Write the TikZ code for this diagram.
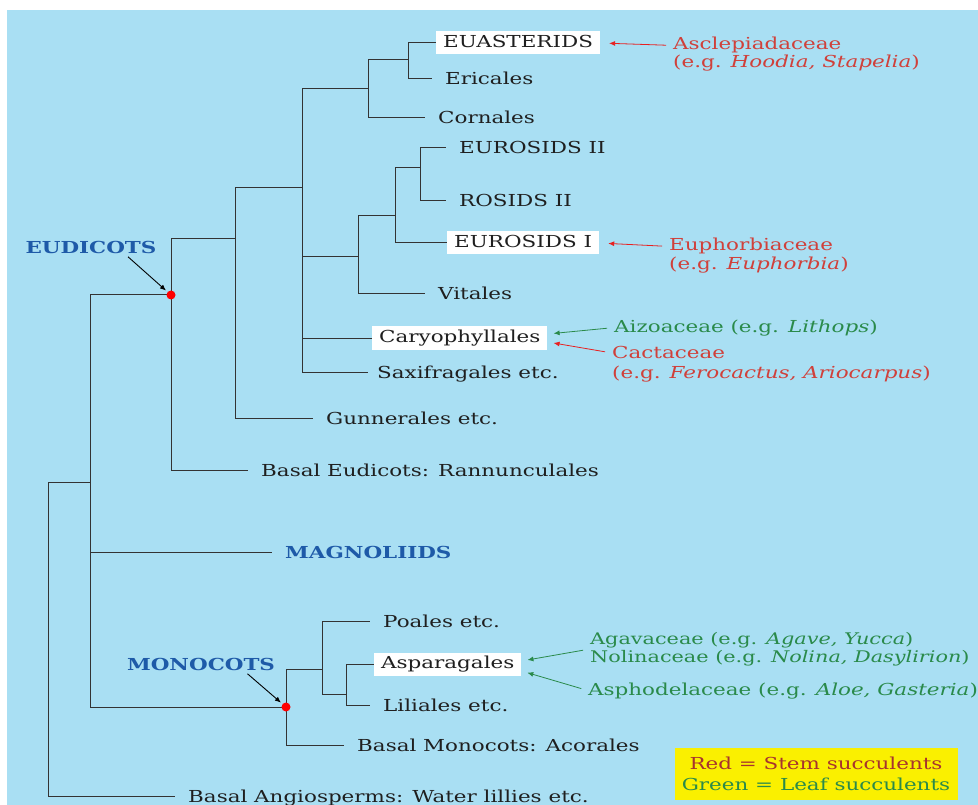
\documentclass[tikz,border=0pt]{standalone}
\usepackage{fontspec}
\setmainfont[FakeStretch=1.3]{DejaVu Serif}
\usepackage{xcolor}
\usetikzlibrary{arrows.meta,positioning,calc}

\definecolor{skyblue}{HTML}{A9DFF3}
\definecolor{branchgray}{HTML}{333333}
\definecolor{cladeblue}{HTML}{1E5AA8}
\definecolor{stemred}{HTML}{D0403A}
\definecolor{leafgreen}{HTML}{2A8A4A}
\definecolor{arrowred}{HTML}{E82020}
\definecolor{keyyellow}{HTML}{FAF000}

\begin{document}
\begin{tikzpicture}[x=1pt, y=-1pt, >={Latex[length=6pt,width=5pt]},
    font=\fontsize{16.5}{18}\selectfont,
    branch/.style={draw=branchgray, line width=1pt},
    leaf/.style={anchor=west, inner xsep=13pt, inner ysep=0pt, text height=12pt, text depth=0pt, text=black!88},
    boxleaf/.style={anchor=west, fill=white, inner xsep=7pt, inner ysep=4pt, text height=12pt, text depth=3pt, text=black!88},
    clade/.style={text=cladeblue, font=\fontsize{16.5}{18}\selectfont\bfseries},
    note/.style={anchor=base west, inner sep=0pt},
    dot/.style={circle, fill=red, inner sep=0pt, minimum size=9pt},
    redtip/.style={->, arrowred, line width=0.8pt, shorten >=9pt, shorten <=7pt},
    greentip/.style={->, leafgreen, line width=0.8pt, shorten >=6pt, shorten <=7pt}]

    \useasboundingbox (0,0) rectangle (978,805);
    \fill[skyblue] (7,10) rectangle (978,805);

    % Junctions
    \coordinate (root) at (48,482);
    \coordinate (angio) at (90,482);
    \coordinate (eud) at (171,295);
    \coordinate (core) at (235,239);
    \coordinate (pent) at (302,188);
    \coordinate (ast) at (368,89);
    \coordinate (euast) at (408,60);
    \coordinate (ros) at (358,257);
    \coordinate (ros2) at (395,216);
    \coordinate (ros3) at (420,168);
    \coordinate (mono) at (286,707);
    \coordinate (mcore) at (322,669);
    \coordinate (asp) at (346,694);

    % Leaves
    \node[boxleaf] (euasterids) at (436,43) {EUASTERIDS};
    \node[leaf] (ericales) at (432,79) {Ericales};
    \node[leaf] (cornales) at (425,118) {Cornales};
    \node[leaf] (eurosids2) at (446,148) {EUROSIDS II};
    \node[leaf] (rosids2) at (446,201) {ROSIDS II};
    \node[boxleaf] (eurosids1) at (447,243) {EUROSIDS I};
    \node[leaf] (vitales) at (425,294) {Vitales};
    \node[boxleaf] (caryo) at (372,338) {Caryophyllales};
    \node[leaf, inner xsep=9pt] (saxi) at (368,372) {Saxifragales etc.};
    \node[leaf] (gunn) at (313,418) {Gunnerales etc.};
    \node[leaf] (basaleud) at (248,470) {Basal Eudicots: Rannunculales};
    \node[leaf, clade] (magn) at (272,552) {MAGNOLIIDS};
    \node[leaf] (poales) at (370,621) {Poales etc.};
    \node[boxleaf] (aspar) at (374,664) {Asparagales};
    \node[leaf] (lili) at (370,705) {Liliales etc.};
    \node[leaf] (basalmono) at (344,745) {Basal Monocots: Acorales};
    \node[leaf] (basalang) at (175,796) {Basal Angiosperms: Water lillies etc.};

    % Branches
    \draw[branch] (root) |- (angio) (root) |- (basalang.west);
    \draw[branch] (angio) |- (eud) (angio) |- (magn.west) (angio) |- (mono);
    \draw[branch] (eud) |- (core) (eud) |- (basaleud.west);
    \draw[branch] (core) |- (pent) (core) |- (gunn.west);
    \draw[branch] (pent) |- (ast) (pent) |- (ros) (pent) |- (caryo.west) (pent) |- (saxi.west);
    \draw[branch] (ast) |- (euast) (ast) |- (cornales.west);
    \draw[branch] (euast) |- (euasterids.west) (euast) |- (ericales.west);
    \draw[branch] (ros) |- (ros2) (ros) |- (vitales.west);
    \draw[branch] (ros2) |- (ros3) (ros2) |- (eurosids1.west);
    \draw[branch] (ros3) |- (eurosids2.west) (ros3) |- (rosids2.west);
    \draw[branch] (mono) |- (mcore) (mono) |- (basalmono.west);
    \draw[branch] (mcore) |- (poales.west) (mcore) |- (asp);
    \draw[branch] (asp) |- (aspar.west) (asp) |- (lili.west);

    % Clades
    \node[dot] (eudot) at (eud) {};
    \node[dot] (monodot) at (mono) {};
    \node[clade] (eudl) at (91,247) {EUDICOTS};
    \node[clade] (monol) at (201,664) {MONOCOTS};
    \draw[->, line width=0.9pt, shorten >=2pt] ([xshift=-32pt]eudl.south east) -- (eudot);
    \draw[->, line width=0.9pt, shorten >=2pt] ([xshift=-31pt]monol.south east) -- (monodot);

    % Succulent families
    \node[note, stemred] (asc) at (673,50) {Asclepiadaceae};
    \node[note, stemred] (ascx) at (673,68) {(e.g. \textit{Hoodia, Stapelia})};
    \node[note, stemred] (eup) at (669,251) {Euphorbiaceae};
    \node[note, stemred] (eupx) at (669,270) {(e.g. \textit{Euphorbia})};
    \node[note, leafgreen] (aiz) at (614,332) {Aizoaceae (e.g. \textit{Lithops})};
    \node[note, stemred] (cac) at (612,359) {Cactaceae};
    \node[note, stemred] (cacx) at (612,378) {(e.g. \textit{Ferocactus, Ariocarpus})};
    \node[anchor=west, inner sep=0pt, align=left, leafgreen, font=\fontsize{16}{18}\selectfont] (aga) at (590,649)
        {Agavaceae (e.g. \textit{Agave, Yucca})\\Nolinaceae (e.g. \textit{Nolina, Dasylirion})};
    \node[note, leafgreen] (asph) at (588,695) {Asphodelaceae (e.g. \textit{Aloe, Gasteria})};

    % Arrows
    \draw[redtip] (asc.west) -- (euasterids.east);
    \draw[redtip] (eup.west) -- (eurosids1.east);
    \draw[greentip] (aiz.west) -- ([yshift=4pt]caryo.east);
    \draw[redtip, shorten >=6pt] (cac.west) -- ([yshift=-4pt]caryo.east);
    \draw[greentip] (aga.west) -- ([yshift=3pt]aspar.east);
    \draw[greentip] (asph.west) -- ([yshift=-7pt]aspar.east);

    % Key
    \node[fill=keyyellow, minimum width=283pt, minimum height=52pt, align=center] (key) at (816,774)
        {\textcolor{stemred!80!black}{Red = Stem succulents}\\[3pt]\textcolor{leafgreen}{Green = Leaf succulents}};

\end{tikzpicture}
\end{document}
